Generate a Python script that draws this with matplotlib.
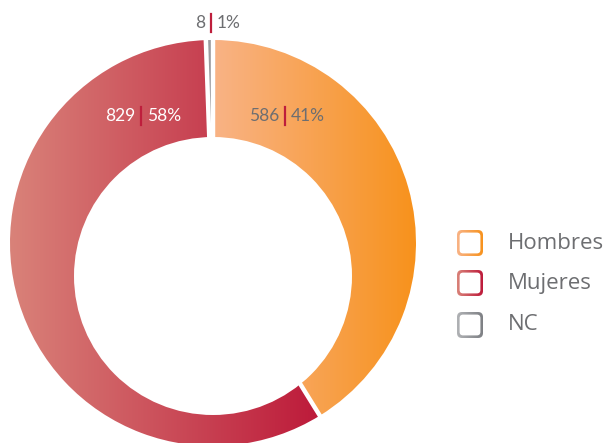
import numpy as np
import matplotlib
matplotlib.use("Agg")
import matplotlib.pyplot as plt
from matplotlib.patches import Wedge, Circle, FancyBboxPatch
from matplotlib.colors import LinearSegmentedColormap

# ---- data ----
categories = ["Hombres", "Mujeres", "NC"]
values = [586, 829, 8]
grad_left = ["#F9B386", "#D98279", "#B0B2B5"]
grad_right = ["#F7921C", "#BD1A3A", "#7E8084"]

total = sum(values)
pcts = [f"{round(100 * v / total)}%" for v in values]

TXT = "#6D6E71"
BAR = "#BE1E3C"
FONT = ["Lato", "DejaVu Sans"]
LFONT = ["Open Sans", "DejaVu Sans"]

fig = plt.figure(figsize=(6.13, 4.43), dpi=100)
ax = fig.add_axes([0, 0, 1, 1])
ax.set_xlim(0, 613)
ax.set_ylim(0, 443)
ax.axis("off")

cx, cy, R = 213, 200, 203          # outer circle
icx, icy, ir = 213, 167, 139       # inner hole (offset)

def gradient_fill(patch, c0, c1, x0, x1, y0, y1, z=1):
    cmap = LinearSegmentedColormap.from_list("g", [c0, c1])
    grad = np.linspace(0, 1, 256).reshape(1, -1)
    im = ax.imshow(grad, cmap=cmap, extent=[x0, x1, y0, y1], aspect="auto",
                   interpolation="bilinear", zorder=z)
    im.set_clip_path(patch)
    return im

start = 90.0
bounds = []
for i, v in enumerate(values):
    span = 360.0 * v / total
    t2 = start
    t1 = start - span
    w = Wedge((cx, cy), R, t1, t2, facecolor="none", edgecolor="none")
    ax.add_patch(w)
    ext = w.get_path().get_extents()
    gradient_fill(w, grad_left[i], grad_right[i], ext.x0, ext.x1, ext.y0, ext.y1)
    bounds.append(t2)
    start = t1

# white separators
for t in bounds:
    a = np.deg2rad(t)
    ax.plot([cx, cx + (R + 5) * np.cos(a)], [cy, cy + (R + 5) * np.sin(a)],
            color="white", lw=3.2, zorder=3, solid_capstyle="butt")

ax.add_patch(Circle((icx, icy), ir, facecolor="white", edgecolor="none", zorder=4))

# labels
label_pos = [(285, 327, TXT), (141, 327, "white"), (211, 420, TXT)]
for i, (x, y, col) in enumerate(label_pos):
    ax.text(x - 6, y, str(values[i]), ha="right", va="center", fontsize=12.5,
            color=col, family=FONT, zorder=6)
    ax.plot([x, x], [y - 9, y + 9], color=BAR, lw=1.6, zorder=6)
    ax.text(x + 6, y, pcts[i], ha="left", va="center", fontsize=12.5,
            color=col, family=FONT, zorder=6)

# legend
leg_y = [200, 160, 118]
for i, cat in enumerate(categories):
    yc = leg_y[i]
    x0, s = 457, 26
    outer = FancyBboxPatch((x0, yc - s / 2), s, s, boxstyle="round,pad=0,rounding_size=5",
                           facecolor="none", edgecolor="none")
    ax.add_patch(outer)
    gradient_fill(outer, grad_left[i], grad_right[i], x0, x0 + s, yc - s / 2, yc + s / 2, z=5)
    b = 2.6
    inner = FancyBboxPatch((x0 + b, yc - s / 2 + b), s - 2 * b, s - 2 * b,
                           boxstyle="round,pad=0,rounding_size=3.5",
                           facecolor="white", edgecolor="none", zorder=6)
    ax.add_patch(inner)
    ax.text(508, yc, cat, ha="left", va="center", fontsize=16, color=TXT,
            family=LFONT, zorder=6)

fig.savefig("out.png", dpi=100, facecolor="white")
